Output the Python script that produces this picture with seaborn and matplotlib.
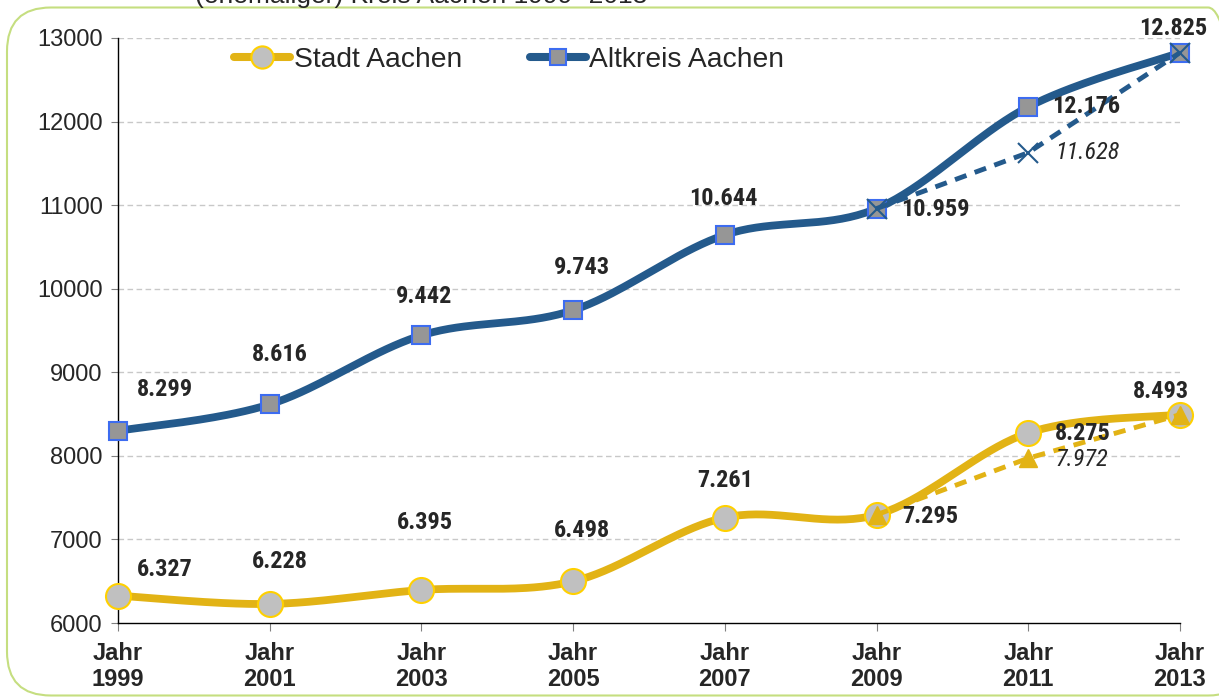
import numpy as np
import pandas as pd
import matplotlib
matplotlib.use('Agg')
import matplotlib.pyplot as plt
import seaborn as sns
from matplotlib.lines import Line2D
from matplotlib.patches import FancyBboxPatch

# data
years = ['1999', '2001', '2003', '2005', '2007', '2009', '2011', '2013']
stadt = [6327, 6228, 6395, 6498, 7261, 7295, 8275, 8493]
altkreis = [8299, 8616, 9442, 9743, 10644, 10959, 12176, 12825]
alt_years = ['2009', '2011', '2013']
stadt_alt = [7295, 7972, 8493]
altkreis_alt = [10959, 11628, 12825]

# label offsets in pixels (dx, dy)
off_altkreis = [(47, 41), (10, 50), (3, 39), (9, 43), (-1, 36), (59, -1), (58, 0), (-7, 24)]
off_stadt = [(47, 26), (10, 42), (3, 67), (9, 51), (0, 37), (54, -2), (54, -1), (-19, 23)]
off_altkreis_alt = (59, 0)
off_stadt_alt = (54, -1.5)

YELLOW = '#E2B315'
BLUE = '#245A8C'
LABEL_FONT = ['Roboto Condensed', 'DejaVu Sans']

sns.set_style('white')
plt.rcParams['font.family'] = ['Liberation Sans', 'DejaVu Sans']


def smooth(x, y, n=40):
    # Excel style smoothed line (bezier through the points)
    x = np.asarray(x, float)
    y = np.asarray(y, float)
    px = np.concatenate([[x[0]], x, [x[-1]]])
    py = np.concatenate([[y[0]], y, [y[-1]]])
    xs, ys = [], []
    t = np.linspace(0, 1, n)
    for i in range(1, len(px) - 2):
        p0 = np.array([px[i], py[i]])
        p3 = np.array([px[i + 1], py[i + 1]])
        c1 = p0 + (np.array([px[i + 1], py[i + 1]]) - np.array([px[i - 1], py[i - 1]])) / 6
        c2 = p3 - (np.array([px[i + 2], py[i + 2]]) - np.array([px[i], py[i]])) / 6
        b = ((1 - t) ** 3)[:, None] * p0 + (3 * (1 - t) ** 2 * t)[:, None] * c1 \
            + (3 * (1 - t) * t ** 2)[:, None] * c2 + (t ** 3)[:, None] * p3
        xs.extend(b[:, 0])
        ys.extend(b[:, 1])
    return np.array(xs), np.array(ys)


def fmt(v):
    return f'{v:,}'.replace(',', '.')


fig = plt.figure(figsize=(12.19, 6.97), dpi=100)
ax = fig.add_axes([118 / 1219, 1 - 623 / 697, (1180 - 118) / 1219, (623 - 38) / 697])

xi = np.arange(len(years))
xa = np.array([years.index(y) for y in alt_years])

# solid smoothed lines
sx, sy = smooth(xi, altkreis)
sns.lineplot(x=sx, y=sy, ax=ax, color=BLUE, lw=5.6, sort=False, zorder=3)
sx, sy = smooth(xi, stadt)
sns.lineplot(x=sx, y=sy, ax=ax, color=YELLOW, lw=5.6, sort=False, zorder=3)
for ln in ax.lines:
    ln.set_clip_on(False)
    ln.set_solid_capstyle('butt')

ax.plot(xi, altkreis, ls='none', marker='s', ms=13, mfc='#969696', mec='#3D6CF0', mew=1.5,
        zorder=4, clip_on=False)
ax.plot(xi, stadt, ls='none', marker='o', ms=18, mfc='#C0C0C0', mec='#FFD000', mew=1.5,
        zorder=4, clip_on=False)

# dashed alternative values
sns.lineplot(x=xa, y=altkreis_alt, ax=ax, color=BLUE, lw=3.5, ls=(0, (2.5, 1.8)), zorder=5)
ax.plot(xa, altkreis_alt, ls='none', marker='x', ms=14, mec=BLUE, mew=1.5, zorder=6, clip_on=False)
sns.lineplot(x=xa, y=stadt_alt, ax=ax, color=YELLOW, lw=3.5, ls=(0, (2.5, 1.8)), zorder=5)
ax.plot(xa, stadt_alt, ls='none', marker='^', ms=13, mfc=YELLOW, mec=YELLOW, zorder=6, clip_on=False)

# data labels
for i, v in enumerate(altkreis):
    ax.annotate(fmt(v), (xi[i], v), xytext=off_altkreis[i], textcoords='offset pixels',
                ha='center', va='center', fontsize=17.5, fontweight='bold', family=LABEL_FONT, zorder=7)
for i, v in enumerate(stadt):
    ax.annotate(fmt(v), (xi[i], v), xytext=off_stadt[i], textcoords='offset pixels',
                ha='center', va='center', fontsize=17.5, fontweight='bold', family=LABEL_FONT, zorder=7)
ax.annotate(fmt(altkreis_alt[1]), (xa[1], altkreis_alt[1]), xytext=off_altkreis_alt,
            textcoords='offset pixels', ha='center', va='center', fontsize=17.5,
            style='italic', family=LABEL_FONT, zorder=7)
ax.annotate(fmt(stadt_alt[1]), (xa[1], stadt_alt[1]), xytext=off_stadt_alt,
            textcoords='offset pixels', ha='center', va='center', fontsize=17.5,
            style='italic', family=LABEL_FONT, zorder=7)

ax.set_xlim(0, len(years) - 1)
ax.set_ylim(6000, 13000)
ax.set_yticks(range(6000, 13001, 1000))
ax.set_xticks(xi)
ax.set_xticklabels([f'Jahr\n{y}' for y in years], fontsize=17, fontweight='bold', linespacing=1.15)
ax.tick_params(axis='y', labelsize=17, length=5, color='#808080', left=True, pad=6)
ax.tick_params(axis='x', length=6, color='#808080', bottom=True, pad=8)
for y in range(7000, 13001, 1000):
    ax.axhline(y, color='#C8C8C8', lw=1, ls=(0, (4, 2.5)), zorder=1)
for s in ['top', 'right']:
    ax.spines[s].set_visible(False)
for s in ['left', 'bottom']:
    ax.spines[s].set_color('black')
    ax.spines[s].set_linewidth(1)
ax.set_xlabel('')
ax.set_ylabel('')

handles = [
    Line2D([], [], color=YELLOW, lw=5.8, marker='o', ms=16, mfc='#C0C0C0', mec='#FFD000', mew=1.5,
           solid_capstyle='round'),
    Line2D([], [], color=BLUE, lw=5.8, marker='s', ms=12, mfc='#969696', mec='#3D6CF0', mew=1.5,
           solid_capstyle='round'),
]
fig.legend(handles, ['Stadt Aachen', 'Altkreis Aachen'], loc='center left',
           bbox_to_anchor=(234 / 1219, 1 - 60 / 697), ncol=2, frameon=False, fontsize=20.3,
           handlelength=2.0, handletextpad=0.12, columnspacing=2.4, borderpad=0, borderaxespad=0)

# cut-off title and rounded frame
fig.text(195 / 1219, 1 - 2.5 / 697, '(ehemaliger) Kreis Aachen 1999- 2013', fontsize=19,
         ha='left', va='baseline')
frame = FancyBboxPatch((7 / 1219, 1.5 / 697), 1245 / 1219, 688 / 697, transform=fig.transFigure,
                       boxstyle='round,pad=0,rounding_size=0.036', fc='none', ec='#C5DE80', lw=1.5,
                       mutation_aspect=1219 / 697)
fig.patches.append(frame)

fig.savefig('out.png', dpi=100)
